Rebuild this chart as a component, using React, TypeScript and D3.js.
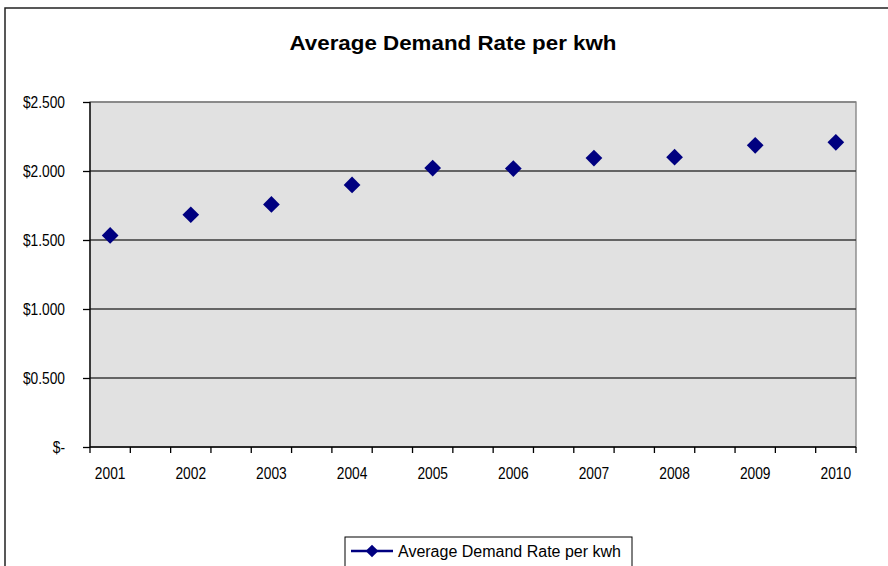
import React, { useEffect, useRef } from "react";
import * as d3 from "d3";

// chart data
const years = [2001, 2002, 2003, 2004, 2005, 2006, 2007, 2008, 2009, 2010];
const demandRate = [1.533, 1.683, 1.758, 1.899, 2.021, 2.018, 2.094, 2.1, 2.186, 2.208];
const yTicks = [0, 0.5, 1, 1.5, 2, 2.5];
const yTickLabels = ["$-", "$0.500", "$1.000", "$1.500", "$2.000", "$2.500"];
const xDomain = [2000.75, 2010.25];
const seriesName = "Average Demand Rate per kwh";
const title = "Average Demand Rate per kwh";

const W = 888;
const H = 566;
const plot = { left: 90, top: 102, right: 856, bottom: 447 };
const FONT = "'Liberation Sans', Arial, sans-serif";
const NAVY = "#000080";

// squeeze text a bit horizontally, the source renders labels narrow
function condense(sel: d3.Selection<any, any, any, any>, k: number) {
  sel.each(function () {
    const t = this as SVGTextElement;
    const w = t.getComputedTextLength();
    t.setAttribute("textLength", String(w * k));
    t.setAttribute("lengthAdjust", "spacingAndGlyphs");
  });
}

export default function App() {
  const svgRef = useRef<SVGSVGElement | null>(null);

  useEffect(() => {
    if (!svgRef.current) return;
    const svg = d3.select(svgRef.current);
    svg.selectAll("*").remove();

    const x = d3.scaleLinear().domain(xDomain).range([plot.left, plot.right]);
    const y = d3.scaleLinear().domain([0, 2.5]).range([plot.bottom, plot.top]);

    // outer chart frame (cropped on right and bottom)
    svg
      .append("rect")
      .attr("x", 5)
      .attr("y", 8)
      .attr("width", 900)
      .attr("height", 600)
      .attr("fill", "#fff")
      .attr("stroke", "#222")
      .attr("stroke-width", 1.5);

    // title
    svg
      .append("text")
      .attr("x", 453)
      .attr("y", 50)
      .attr("text-anchor", "middle")
      .attr("font-family", FONT)
      .attr("font-weight", "bold")
      .attr("font-size", 19.5)
      .attr("textLength", 327)
      .attr("lengthAdjust", "spacingAndGlyphs")
      .text(title);

    // plot area
    svg
      .append("rect")
      .attr("x", plot.left)
      .attr("y", plot.top)
      .attr("width", plot.right - plot.left)
      .attr("height", plot.bottom - plot.top)
      .attr("fill", "#e1e1e1")
      .attr("stroke", "#808080")
      .attr("stroke-width", 1.3);

    // gridlines
    svg
      .append("g")
      .selectAll("line")
      .data(yTicks.filter((t) => t > 0))
      .enter()
      .append("line")
      .attr("x1", plot.left)
      .attr("x2", plot.right)
      .attr("y1", (d) => y(d))
      .attr("y2", (d) => y(d))
      .attr("stroke", (d) => (d === 2.5 ? "#808080" : "#3a3a3a"))
      .attr("stroke-width", 1.3);

    // y axis
    const yAxis = d3
      .axisLeft(y)
      .tickValues(yTicks)
      .tickSize(7)
      .tickPadding(18)
      .tickFormat((d, i) => yTickLabels[i]);
    const yg = svg.append("g").attr("transform", `translate(${plot.left},0)`).call(yAxis);
    yg.select(".domain").attr("stroke", "#000").attr("stroke-width", 1.3).attr("d", `M0,${plot.top}V${plot.bottom}`);
    yg.selectAll(".tick line").attr("stroke", "#000").attr("stroke-width", 1.3);
    yg.selectAll(".tick text").attr("font-family", FONT).attr("font-size", 16).attr("fill", "#000");
    condense(yg.selectAll(".tick text"), 0.86);

    // x axis: half-year tick marks, year labels under the points
    const halfTicks = d3.range(20).map((i) => xDomain[0] + i * 0.5);
    const xg = svg.append("g").attr("transform", `translate(0,${plot.bottom})`);
    xg.append("line")
      .attr("x1", plot.left)
      .attr("x2", plot.right)
      .attr("stroke", "#000")
      .attr("stroke-width", 1.3);
    xg.selectAll("line.tick")
      .data(halfTicks)
      .enter()
      .append("line")
      .attr("class", "tick")
      .attr("x1", (d) => x(d))
      .attr("x2", (d) => x(d))
      .attr("y1", 0)
      .attr("y2", 6)
      .attr("stroke", "#000")
      .attr("stroke-width", 1.3);
    const xl = xg
      .selectAll("text")
      .data(years)
      .enter()
      .append("text")
      .attr("x", (d) => x(d))
      .attr("y", 32)
      .attr("text-anchor", "middle")
      .attr("font-family", FONT)
      .attr("font-size", 16)
      .text((d) => String(d));
    condense(xl, 0.86);

    // points
    const diamond = d3.symbol().type(d3.symbolSquare).size(140)();
    svg
      .append("g")
      .selectAll("path")
      .data(demandRate)
      .enter()
      .append("path")
      .attr("d", diamond)
      .attr("transform", (d, i) => `translate(${x(years[i])},${y(d)}) rotate(45)`)
      .attr("fill", NAVY);

    // legend
    const lg = svg.append("g");
    lg.append("rect")
      .attr("x", 345)
      .attr("y", 537)
      .attr("width", 287)
      .attr("height", 40)
      .attr("fill", "#fff")
      .attr("stroke", "#000")
      .attr("stroke-width", 1);
    lg.append("line")
      .attr("x1", 351)
      .attr("x2", 393)
      .attr("y1", 551)
      .attr("y2", 551)
      .attr("stroke", NAVY)
      .attr("stroke-width", 2.5);
    lg.append("path")
      .attr("d", d3.symbol().type(d3.symbolSquare).size(80)())
      .attr("transform", "translate(372,551) rotate(45)")
      .attr("fill", NAVY);
    lg.append("text")
      .attr("x", 398)
      .attr("y", 557)
      .attr("font-family", FONT)
      .attr("font-size", 16)
      .attr("textLength", 223)
      .attr("lengthAdjust", "spacingAndGlyphs")
      .text(seriesName);
  }, []);

  return (
    <div style={{ position: "absolute", left: 0, top: 0, width: W, height: H, overflow: "hidden", background: "#fff" }}>
      <svg ref={svgRef} width={W} height={H} />
    </div>
  );
}
